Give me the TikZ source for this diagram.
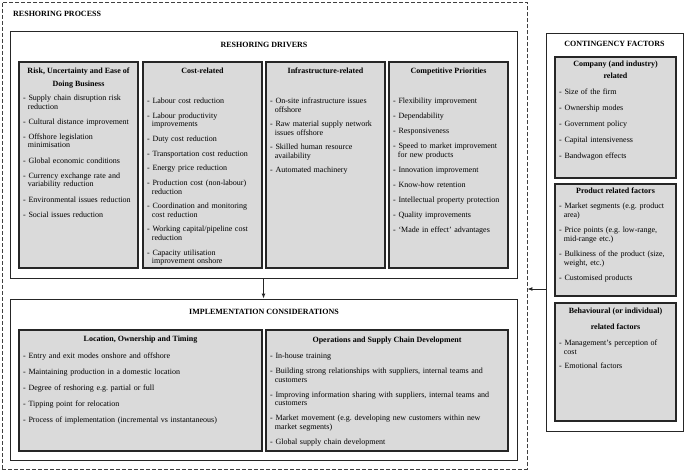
\documentclass[tikz,border=0pt]{standalone}
\usepackage{fontspec}
\setmainfont{Liberation Serif}
\usetikzlibrary{arrows.meta,fit}
\definecolor{boxgray}{RGB}{218,218,218}
\newcommand\fs{\fontsize{8}{8.5}\selectfont\frenchspacing}
\newcommand\brk{\unskip\hfil\break}
\newlength\itgap
\setlength\itgap{6.5pt}
\newcommand\itz[1]{\hangindent=0.58em\hangafter=1\noindent-\ #1\par}
\newcommand\itm[1]{\vspace{\itgap}\itz{#1}}
\tikzset{
  procbox/.style={draw=black!75, dash pattern=on 4pt off 2pt, line width=0.8pt, inner sep=0pt},
  framebox/.style={draw=black!85, line width=0.9pt, fill=white, inner sep=0pt},
  graybox/.style={draw=black!85, line width=1.4pt, fill=boxgray, inner sep=0pt},
  ttl/.style={font=\fs\bfseries, inner sep=0pt, anchor=mid},
  lst/.style={font=\fs, inner sep=0pt, anchor=base west, align=left, text width=#1},
  arr/.style={-{Latex[length=5pt,width=4pt]}, line width=0.9pt, draw=black!85},
}
\begin{document}
\begin{tikzpicture}[x=1pt,y=-1pt]
\useasboundingbox (0,0) rectangle (685,471);
% reshoring process (dashed)
\node[procbox, fit={(2,2) (527,469)}] (proc) {};
\node[ttl, anchor=mid west] (proct) at (13,14) {RESHORING PROCESS};
% drivers
\node[framebox, fit={(10,31) (517,278)}] (drv) {};
\node[ttl] (drvt) at (264,45) {RESHORING DRIVERS};
\node[graybox, fit={(19,62) (138,268)}] (b1) {};
\node[graybox, fit={(143,62) (262,268)}] (b2) {};
\node[graybox, fit={(266,62) (385,268)}] (b3) {};
\node[graybox, fit={(389,62) (508,268)}] (b4) {};
\node[ttl] (b1ta) at (78.5,71) {Risk, Uncertainty and Ease of};
\node[ttl] (b1tb) at (78.5,84) {Doing Business};
\node[ttl] (b2t) at (202.5,71) {Cost-related};
\node[ttl] (b3t) at (325.5,71) {Infrastructure-related};
\node[ttl] (b4t) at (448.5,71) {Competitive Priorities};
\node[lst=115] (b1l) at (23,100.5) {\setlength\itgap{6.7pt}%
\itz{Supply chain disruption risk\brk reduction}
\itm{Cultural distance improvement}
\itm{Offshore legislation\brk minimisation}
\itm{Global economic conditions}
\itm{Currency exchange rate and\brk variability reduction}
\itm{Environmental issues reduction}
\itm{Social issues reduction}};
\node[lst=115] (b2l) at (147,103.5) {\setlength\itgap{6.2pt}%
\itz{Labour cost reduction}
\itm{Labour productivity\brk improvements}
\itm{Duty cost reduction}
\itm{Transportation cost reduction}
\itm{Energy price reduction}
\itm{Production cost (non-labour)\brk reduction}
\itm{Coordination and monitoring\brk cost reduction}
\itm{Working capital/pipeline cost\brk reduction}
\itm{Capacity utilisation\brk improvement onshore}};
\node[lst=115] (b3l) at (270,103.5) {\setlength\itgap{6pt}%
\itz{On-site infrastructure issues\brk offshore}
\itm{Raw material supply network\brk issues offshore}
\itm{Skilled human resource\brk availability}
\itm{Automated machinery}};
\node[lst=115] (b4l) at (393,103.5) {\setlength\itgap{6.5pt}%
\itz{Flexibility improvement}
\itm{Dependability}
\itm{Responsiveness}
\itm{Speed to market improvement\brk for new products}
\itm{Innovation improvement}
\itm{Know-how retention}
\itm{Intellectual property protection}
\itm{Quality improvements}
\itm{‘Made in effect’ advantages}};
% implementation
\node[framebox, fit={(10,299) (517,460)}] (imp) {};
\node[ttl] (impt) at (264,312) {IMPLEMENTATION CONSIDERATIONS};
\node[graybox, fit={(19,330) (262,451)}] (ia) {};
\node[graybox, fit={(266,330) (508,451)}] (ib) {};
\node[ttl] (iat) at (140.5,339) {Location, Ownership and Timing};
\node[ttl] (ibt) at (387,340) {Operations and Supply Chain Development};
\node[lst=236] (ial) at (23,358.5) {\setlength\itgap{7.5pt}%
\itz{Entry and exit modes onshore and offshore}
\itm{Maintaining production in a domestic location}
\itm{Degree of reshoring e.g. partial or full}
\itm{Tipping point for relocation}
\itm{Process of implementation (incremental vs instantaneous)}};
\node[lst=236] (ibl) at (270,358.5) {\setlength\itgap{6.5pt}%
\itz{In-house training}
\itm{Building strong relationships with suppliers, internal teams and\brk customers}
\itm{Improving information sharing with suppliers, internal teams and\brk customers}
\itm{Market movement (e.g. developing new customers within new\brk market segments)}
\itm{Global supply chain development}};
% contingency
\node[framebox, fit={(546,33) (683,431)}] (cont) {};
\node[ttl] (contt) at (614.5,44) {CONTINGENCY FACTORS};
\node[graybox, fit={(555,57) (676,178)}] (c1) {};
\node[graybox, fit={(555,184) (676,296)}] (c2) {};
\node[graybox, fit={(555,303) (676,421)}] (c3) {};
\node[ttl] (c1ta) at (615.5,64) {Company (and industry)};
\node[ttl] (c1tb) at (615.5,76) {related};
\node[ttl] (c2t) at (615.5,191) {Product related factors};
\node[ttl] (c3ta) at (615.5,311) {Behavioural (or individual)};
\node[ttl] (c3tb) at (615.5,327) {related factors};
\node[lst=116] (c1l) at (559,94.5) {\setlength\itgap{7.5pt}%
\itz{Size of the firm}
\itm{Ownership modes}
\itm{Government policy}
\itm{Capital intensiveness}
\itm{Bandwagon effects}};
\node[lst=116] (c2l) at (559,208.5) {\setlength\itgap{7pt}%
\itz{Market segments (e.g. product\brk area)}
\itm{Price points (e.g. low-range,\brk mid-range etc.)}
\itm{Bulkiness of the product (size,\brk weight, etc.)}
\itm{Customised products}};
\node[lst=116] (c3l) at (559,345.5) {\setlength\itgap{6pt}%
\itz{Management’s perception of\brk cost}
\itm{Emotional factors}};
% connectors
\draw[arr] (drv.south) -- (imp.north);
\coordinate (ay) at (0,289);
\draw[arr] (cont.west |- ay) -- (proc.east |- ay);
\end{tikzpicture}
\end{document}
